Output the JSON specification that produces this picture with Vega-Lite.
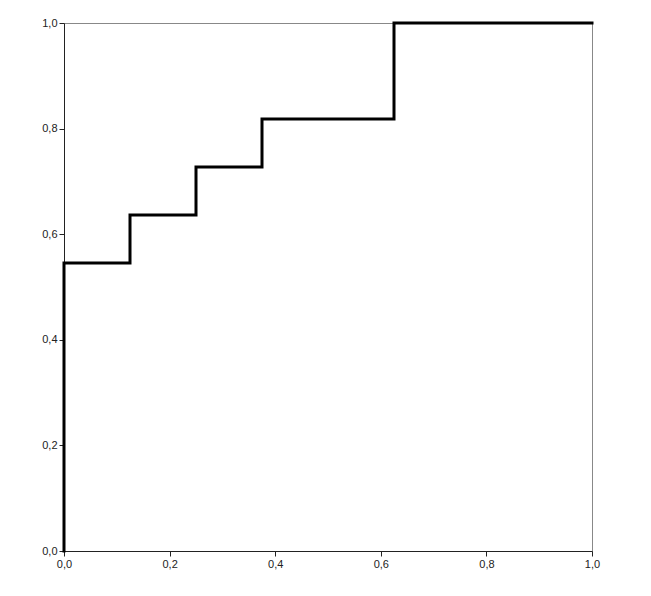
{
  "$schema": "https://vega.github.io/schema/vega-lite/v6.json",
  "width": 528,
  "height": 528,
  "autosize": {"type": "none"},
  "padding": {"left": 64, "top": 23, "right": 59, "bottom": 45},
  "background": "white",
  "config": {
    "view": {"stroke": "#888888", "strokeWidth": 1},
    "axis": {
      "grid": false,
      "labelFont": "Liberation Sans",
      "labelFontSize": 11,
      "labelColor": "#222222",
      "labelFlush": false,
      "labelOverlap": false,
      "tickColor": "#222222",
      "tickSize": 5,
      "domainColor": "#222222",
      "title": null
    }
  },
  "data": {
    "values": [
      {"i": 0, "fpr": 0, "tpr": 0},
      {"i": 1, "fpr": 0, "tpr": 0.5455},
      {"i": 2, "fpr": 0.125, "tpr": 0.5455},
      {"i": 3, "fpr": 0.125, "tpr": 0.6364},
      {"i": 4, "fpr": 0.25, "tpr": 0.6364},
      {"i": 5, "fpr": 0.25, "tpr": 0.7273},
      {"i": 6, "fpr": 0.375, "tpr": 0.7273},
      {"i": 7, "fpr": 0.375, "tpr": 0.8182},
      {"i": 8, "fpr": 0.625, "tpr": 0.8182},
      {"i": 9, "fpr": 0.625, "tpr": 1},
      {"i": 10, "fpr": 1, "tpr": 1}
    ]
  },
  "mark": {"type": "line", "color": "black", "strokeWidth": 3, "strokeJoin": "miter", "strokeCap": "square", "clip": false},
  "encoding": {
    "x": {
      "field": "fpr", "type": "quantitative",
      "scale": {"domain": [0, 1], "nice": false},
      "axis": {"values": [0, 0.2, 0.4, 0.6, 0.8, 1], "labelExpr": "replace(format(datum.value, '.1f'), '.', ',')", "domain": true}
    },
    "y": {
      "field": "tpr", "type": "quantitative",
      "scale": {"domain": [0, 1], "nice": false},
      "axis": {"values": [0, 0.2, 0.4, 0.6, 0.8, 1], "labelExpr": "replace(format(datum.value, '.1f'), '.', ',')", "domain": true}
    },
    "order": {"field": "i", "type": "quantitative"}
  }
}
